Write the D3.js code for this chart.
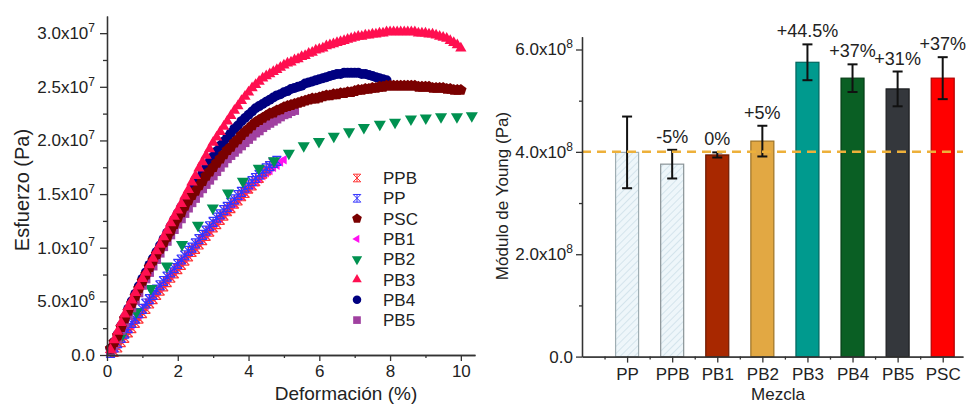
<!DOCTYPE html>
<html>
<head>
<meta charset="utf-8">
<script src="https://cdnjs.cloudflare.com/ajax/libs/d3/7.8.5/d3.min.js"></script>
<style>
  body { margin: 0; background: #fff; }
  svg { display: block; font-family: Arial, "Liberation Sans", sans-serif; }
  .axis path, .axis line { stroke: #333; stroke-width: 1.3; }
  .axis text { font-size: 17px; fill: #222; }
</style>
</head>
<body>
<svg id="chart" width="969" height="404"></svg>
<script>
// ---- stress-strain curves (strain in %, stress in units of 1e6 Pa) ----
const pscX = [0.1,0.2,0.3,0.4,0.5,0.6,0.7,0.8,0.9,1.0,1.1,1.2,1.3,1.4,1.5,1.6,1.7,1.8,1.9,2.0,2.1,2.2,2.3,2.4,2.5,2.6,2.7,2.8,2.9,3.0,3.1,3.2,3.3,3.4,3.5,3.6,3.7,3.8,3.9,4.0,4.1,4.2,4.3,4.4,4.5,4.6,4.7,4.8,4.9,5.0,5.1,5.2,5.3,5.4,5.5,5.6,5.7,5.8,5.9,6.0,6.1,6.2,6.3,6.4,6.5,6.6,6.7,6.8,6.9,7.0,7.1,7.2,7.3,7.4,7.5,7.6,7.7,7.8,7.9,8.0,8.1,8.2,8.3,8.4,8.5,8.6,8.7,8.8,8.9,9.0,9.1,9.2,9.3,9.4,9.5,9.6,9.7,9.8,9.9,10.0];
const pscY = [0.6,1.2,1.8,2.6,3.4,4.1,4.8,5.5,6.2,6.9,7.5,8.2,8.8,9.4,9.9,10.5,11.0,11.6,12.2,12.8,13.3,13.9,14.4,14.9,15.3,15.8,16.2,16.7,17.1,17.5,17.9,18.3,18.7,19.1,19.4,19.8,20.1,20.5,20.8,21.1,21.4,21.7,21.9,22.1,22.3,22.5,22.6,22.8,22.9,23.1,23.2,23.3,23.4,23.5,23.6,23.7,23.8,23.9,23.9,24.0,24.1,24.2,24.2,24.3,24.3,24.4,24.4,24.5,24.5,24.6,24.7,24.7,24.8,24.8,24.9,24.9,25.0,25.0,25.1,25.1,25.1,25.1,25.1,25.1,25.1,25.1,25.1,25.0,25.0,25.0,25.0,24.9,24.9,24.9,24.9,24.8,24.8,24.7,24.7,24.7];

const pb3X = [0.1,0.2,0.3,0.4,0.5,0.6,0.7,0.8,0.9,1.0,1.1,1.2,1.3,1.4,1.5,1.6,1.7,1.8,1.9,2.0,2.1,2.2,2.3,2.4,2.5,2.6,2.7,2.8,2.9,3.0,3.1,3.2,3.3,3.4,3.5,3.6,3.7,3.8,3.9,4.0,4.1,4.2,4.3,4.4,4.5,4.6,4.7,4.8,4.9,5.0,5.1,5.2,5.3,5.4,5.5,5.6,5.7,5.8,5.9,6.0,6.1,6.2,6.3,6.4,6.5,6.6,6.7,6.8,6.9,7.0,7.1,7.2,7.3,7.4,7.5,7.6,7.7,7.8,7.9,8.0,8.1,8.2,8.3,8.4,8.5,8.6,8.7,8.8,8.9,9.0,9.1,9.2,9.3,9.4,9.5,9.6,9.7,9.8,9.9,10.0];
const pb3Y = [0.5,1.4,2.2,3.0,3.8,4.5,5.1,5.8,6.4,7.1,7.7,8.4,9.0,9.7,10.3,11.0,11.6,12.3,12.9,13.5,14.1,14.8,15.4,16.1,16.7,17.4,18.0,18.6,19.2,19.8,20.3,20.8,21.3,21.8,22.3,22.8,23.2,23.7,24.1,24.5,24.9,25.2,25.5,25.8,26.0,26.2,26.4,26.6,26.8,27.0,27.2,27.3,27.5,27.6,27.8,27.9,28.1,28.2,28.4,28.5,28.6,28.8,28.9,29.0,29.1,29.2,29.3,29.4,29.5,29.6,29.7,29.7,29.8,29.8,29.9,29.9,30.0,30.0,30.1,30.1,30.1,30.1,30.1,30.1,30.1,30.1,30.1,30.0,30.0,30.0,29.9,29.9,29.8,29.7,29.6,29.5,29.3,29.1,28.9,28.6];

const pb4X = [0.1,0.2,0.3,0.4,0.5,0.6,0.7,0.8,0.9,1.0,1.1,1.2,1.3,1.4,1.5,1.6,1.7,1.8,1.9,2.0,2.1,2.2,2.3,2.4,2.5,2.6,2.7,2.8,2.9,3.0,3.1,3.2,3.3,3.4,3.5,3.6,3.7,3.8,3.9,4.0,4.1,4.2,4.3,4.4,4.5,4.6,4.7,4.8,4.9,5.0,5.1,5.2,5.3,5.4,5.5,5.6,5.7,5.8,5.9,6.0,6.1,6.2,6.3,6.4,6.5,6.6,6.7,6.8,6.9,7.0,7.1,7.2,7.3,7.4,7.5,7.6,7.7,7.8,7.9];
const pb4Y = [0.6,1.2,1.9,2.7,3.5,4.3,5.0,5.7,6.4,7.1,7.7,8.4,9.0,9.6,10.2,10.8,11.4,12.0,12.6,13.2,13.8,14.4,14.9,15.5,16.0,16.5,17.0,17.5,18.0,18.5,19.0,19.5,19.9,20.3,20.7,21.1,21.4,21.8,22.1,22.4,22.7,23.0,23.2,23.4,23.6,23.8,24.0,24.2,24.3,24.5,24.6,24.8,24.9,25.0,25.1,25.3,25.4,25.5,25.6,25.7,25.8,25.9,26.0,26.1,26.2,26.2,26.3,26.3,26.3,26.3,26.3,26.2,26.2,26.1,26.0,25.9,25.8,25.7,25.6];

const pb5X = [0.1,0.2,0.3,0.4,0.5,0.6,0.7,0.8,0.9,1.0,1.1,1.2,1.3,1.4,1.5,1.6,1.7,1.8,1.9,2.0,2.1,2.2,2.3,2.4,2.5,2.6,2.7,2.8,2.9,3.0,3.1,3.2,3.3,3.4,3.5,3.6,3.7,3.8,3.9,4.0,4.1,4.2,4.3,4.4,4.5,4.6,4.7,4.8,4.9,5.0,5.1,5.2,5.3];
const pb5Y = [0.3,0.9,1.5,2.3,3.0,3.7,4.4,5.1,5.8,6.5,7.1,7.7,8.3,8.9,9.5,10.1,10.6,11.2,11.7,12.2,12.7,13.2,13.7,14.2,14.6,15.1,15.5,15.9,16.3,16.7,17.1,17.5,17.9,18.3,18.6,18.9,19.2,19.5,19.8,20.1,20.4,20.7,20.9,21.2,21.4,21.6,21.8,22.0,22.2,22.4,22.5,22.7,22.8];

const pb2X = [0.40,0.83,1.24,1.69,2.12,2.57,2.99,3.42,3.84,4.29,4.72,5.14,5.56,5.99,6.41,6.84,7.26,7.71,8.14,8.59,9.01,9.44,9.89,10.31];
const pb2Y = [1.7,4.0,6.2,8.3,10.3,12.1,13.7,15.1,16.2,17.4,18.1,18.8,19.5,19.9,20.4,20.8,21.2,21.5,21.7,22.0,22.1,22.2,22.2,22.3];

const ppX = [0.1,0.2,0.3,0.4,0.5,0.6,0.7,0.8,0.9,1.0,1.1,1.2,1.3,1.4,1.5,1.6,1.7,1.8,1.9,2.0,2.1,2.2,2.3,2.4,2.5,2.6,2.7,2.8,2.9,3.0,3.1,3.2,3.3,3.4,3.5,3.6,3.7,3.8,3.9,4.0,4.1,4.2,4.3,4.4,4.5,4.6,4.7,4.8];
const ppY = [0.2,0.7,1.1,1.6,2.0,2.5,3.0,3.4,3.9,4.3,4.8,5.2,5.6,6.1,6.5,6.9,7.3,7.7,8.1,8.5,8.9,9.3,9.7,10.0,10.4,10.8,11.2,11.6,12.0,12.4,12.8,13.1,13.5,13.8,14.2,14.5,14.9,15.2,15.6,15.9,16.2,16.5,16.8,17.1,17.4,17.6,17.9,18.1];

const ppbX = [0.2,0.3,0.4,0.5,0.6,0.7,0.8,0.9,1.0,1.1,1.2,1.3,1.4,1.5,1.6,1.7,1.8,1.9,2.0,2.1,2.2,2.3,2.4,2.5,2.6,2.7,2.8,2.9,3.0,3.1,3.2,3.3,3.4,3.5,3.6,3.7,3.8,3.9,4.0,4.1,4.2,4.3,4.4,4.5,4.6,4.7];
const ppbY = [0.3,0.7,1.2,1.6,2.1,2.5,3.0,3.4,3.9,4.3,4.8,5.2,5.6,6.0,6.4,6.8,7.2,7.6,8.0,8.4,8.8,9.2,9.6,9.9,10.3,10.7,11.1,11.5,11.9,12.2,12.6,13.0,13.4,13.7,14.1,14.4,14.8,15.1,15.5,15.8,16.2,16.5,16.9,17.2,17.6,17.9];

const pb1X = [0.1,0.2,0.3,0.4,0.5,0.6,0.7,0.8,0.9,1.0,1.1,1.2,1.3,1.4,1.5,1.6,1.7,1.8,1.9,2.0,2.1,2.2,2.3,2.4,2.5,2.6,2.7,2.8,2.9,3.0,3.1,3.2,3.3,3.4,3.5,3.6,3.7,3.8,3.9,4.0,4.1,4.2,4.3,4.4,4.5,4.6,4.7,4.8,4.9,5.0];
const pb1Y = [0.2,0.6,1.0,1.5,1.9,2.4,2.8,3.3,3.7,4.2,4.6,5.0,5.4,5.8,6.2,6.6,7.0,7.4,7.8,8.2,8.6,9.0,9.4,9.7,10.1,10.5,10.9,11.2,11.6,12.0,12.4,12.7,13.1,13.4,13.8,14.1,14.5,14.8,15.2,15.5,15.8,16.1,16.4,16.7,17.0,17.2,17.5,17.7,18.0,18.2];

const legendOrder = ["PPB", "PP", "PSC", "PB1", "PB2", "PB3", "PB4", "PB5"];
const strainTicks = [0, 2, 4, 6, 8, 10];
const stressTicks = [0, 5, 10, 15, 20, 25, 30];

// ---- Young's modulus (units of 1e8 Pa) ----
const mixes = ["PP", "PPB", "PB1", "PB2", "PB3", "PB4", "PB5", "PSC"];
const modulus = [3.99, 3.76, 3.94, 4.21, 5.75, 5.44, 5.23, 5.44];
const modulusErr = [0.70, 0.28, 0.05, 0.30, 0.35, 0.27, 0.34, 0.41];
const changeLabels = ["", "-5%", "0%", "+5%", "+44.5%", "+37%", "+31%", "+37%"];
const referenceModulus = 4.0;
const modulusTicks = [0, 2, 4, 6];

const barColors = ["url(#hatch)", "url(#hatch)", "#A82800", "#E2A843", "#009A8E", "#0A5F24", "#34373C", "#FF0000"];
const barStrokes = ["#9fadb2", "#8a9397", "#6e1a00", "#9c7226", "#00665e", "#053d16", "#1c1e21", "#b00000"];

const svg = d3.select("#chart");

const defs = svg.append("defs");
const pat = defs.append("pattern").attr("id", "hatch")
    .attr("width", 5).attr("height", 5)
    .attr("patternUnits", "userSpaceOnUse")
    .attr("patternTransform", "rotate(45)");
pat.append("rect").attr("width", 5).attr("height", 5).attr("fill", "#eef6fa");
pat.append("line").attr("x1", 0).attr("y1", 0).attr("x2", 0).attr("y2", 5)
    .attr("stroke", "#c3d9e4").attr("stroke-width", 1.2);

// marker shapes
function shape(kind, r) {
    const poly = angles => "M" + angles.map(a => {
        const t = a * Math.PI / 180;
        return (r * Math.cos(t)).toFixed(2) + "," + (r * Math.sin(t)).toFixed(2);
    }).join("L") + "Z";
    switch (kind) {
        case "pentagon": return poly([-90, -18, 54, 126, 198]);
        case "up": return poly([-90, 30, 150]);
        case "down": return poly([90, 210, 330]);
        case "left": return poly([180, 300, 60]);
        case "square": return `M${-r},${-r}H${r}V${r}H${-r}Z`;
        case "circle": return `M${r},0A${r},${r} 0 1,1 ${-r},0A${r},${r} 0 1,1 ${r},0Z`;
        case "hatch": return `M${-r},${-r}L${r},${r}M${-r},${r}L${r},${-r}M${-r},${-r}H${r}M${-r},${r}H${r}M0,${-r}V${r}`;
    }
}

// superscript tick labels like 3.0x10^7
function sciTicks(g, unit) {
    g.selectAll(".tick text").each(function (d) {
        const t = d3.select(this);
        t.text(null);
        if (d === 0) { t.text("0.0"); return; }
        const v = d * unit;
        const e = Math.floor(Math.log10(v) + 1e-9);
        const m = (v / Math.pow(10, e)).toFixed(1);
        t.append("tspan").text(m + "x10");
        t.append("tspan").attr("dy", "-0.6em").attr("font-size", "12px").text(e);
    });
}

// ================= left: stress-strain =================
const xL = d3.scaleLinear().domain([0, 10.4]).range([107, 475]);
const yL = d3.scaleLinear().domain([0, 31.6]).range([355, 16]);

const series = {
    PPB: { xs: ppbX, ys: ppbY, color: "#FF3535", kind: "hatch", r: 4.5 },
    PP:  { xs: ppX,  ys: ppY,  color: "#3434FF", kind: "hatch", r: 4.5 },
    PSC: { xs: pscX, ys: pscY, color: "#7A0000", kind: "pentagon", r: 6 },
    PB1: { xs: pb1X, ys: pb1Y, color: "#FF10F0", kind: "left", r: 5.5 },
    PB2: { xs: pb2X, ys: pb2Y, color: "#009150", kind: "down", r: 7 },
    PB3: { xs: pb3X, ys: pb3Y, color: "#FF0F50", kind: "up", r: 6.5 },
    PB4: { xs: pb4X, ys: pb4Y, color: "#000080", kind: "circle", r: 5 },
    PB5: { xs: pb5X, ys: pb5Y, color: "#A040A0", kind: "square", r: 4.5 }
};
const drawOrder = ["PB1", "PPB", "PP", "PB2", "PB5", "PB4", "PSC", "PB3"];

const left = svg.append("g");

drawOrder.forEach(name => {
    const s = series[name];
    const pts = s.xs.map((x, i) => [x, s.ys[i]]);
    const stroked = s.kind === "hatch";
    left.append("g").selectAll("path")
        .data(pts)
        .enter().append("path")
        .attr("transform", d => `translate(${xL(d[0])},${yL(d[1])})`)
        .attr("d", shape(s.kind, s.r))
        .attr("fill", stroked ? "none" : s.color)
        .attr("stroke", stroked ? s.color : "none")
        .attr("stroke-width", stroked ? 1.2 : 0);
});

// axes
left.append("g").attr("class", "axis")
    .attr("transform", "translate(0,355)")
    .call(d3.axisBottom(xL).tickValues(strainTicks).tickSize(6).tickSizeOuter(0).tickPadding(4));
left.append("g").attr("class", "axis")
    .attr("transform", "translate(0,355)")
    .call(d3.axisBottom(xL).tickValues([1, 3, 5, 7, 9]).tickSize(3).tickSizeOuter(0).tickFormat(""));
left.append("g").attr("class", "axis")
    .attr("transform", "translate(107,0)")
    .call(d3.axisLeft(yL).tickValues(stressTicks).tickSize(7).tickSizeOuter(0).tickPadding(5))
    .call(g => sciTicks(g, 1e6));
left.append("g").attr("class", "axis")
    .attr("transform", "translate(107,0)")
    .call(d3.axisLeft(yL).tickValues([2.5, 7.5, 12.5, 17.5, 22.5, 27.5]).tickSize(4).tickSizeOuter(0).tickFormat(""));

left.append("text")
    .attr("x", 346).attr("y", 400)
    .attr("text-anchor", "middle")
    .attr("font-size", "19px").attr("fill", "#222")
    .text("Deformación (%)");
left.append("text")
    .attr("transform", "translate(29,190) rotate(-90)")
    .attr("text-anchor", "middle")
    .attr("font-size", "20px").attr("fill", "#222")
    .text("Esfuerzo (Pa)");

// legend
const legend = left.append("g");
legendOrder.forEach((name, i) => {
    const s = series[name];
    const y = 178 + i * 20.3;
    const stroked = s.kind === "hatch";
    legend.append("path")
        .attr("transform", `translate(357,${y})`)
        .attr("d", shape(s.kind, s.r * 0.85))
        .attr("fill", stroked ? "none" : s.color)
        .attr("stroke", stroked ? s.color : "none")
        .attr("stroke-width", 1);
    legend.append("text")
        .attr("x", 383).attr("y", y)
        .attr("dy", "0.36em")
        .attr("font-size", "17px").attr("fill", "#222")
        .text(name);
});

// ================= right: Young's modulus =================
const xR = d3.scaleLinear().domain([0, 8.45]).range([582, 963]);
const yR = d3.scaleLinear().domain([0, 6.25]).range([356.6, 36.7]);
const barW = 23;

const right = svg.append("g");

right.selectAll("rect.bar")
    .data(mixes)
    .enter().append("rect")
    .attr("class", "bar")
    .attr("x", (d, i) => xR(i + 1) - barW / 2)
    .attr("y", (d, i) => yR(modulus[i]))
    .attr("width", barW)
    .attr("height", (d, i) => yR(0) - yR(modulus[i]))
    .attr("fill", (d, i) => barColors[i])
    .attr("stroke", (d, i) => barStrokes[i])
    .attr("stroke-width", 1.2);

// error bars
const err = right.append("g").attr("stroke", "#111").attr("stroke-width", 2);
mixes.forEach((d, i) => {
    const cx = xR(i + 1);
    const top = yR(modulus[i] + modulusErr[i]);
    const bot = yR(modulus[i] - modulusErr[i]);
    err.append("line").attr("x1", cx).attr("x2", cx).attr("y1", top).attr("y2", bot);
    err.append("line").attr("x1", cx - 5).attr("x2", cx + 5).attr("y1", top).attr("y2", top);
    err.append("line").attr("x1", cx - 5).attr("x2", cx + 5).attr("y1", bot).attr("y2", bot);
});

// reference line
right.append("line")
    .attr("x1", xR(0)).attr("x2", xR(8.45))
    .attr("y1", yR(referenceModulus)).attr("y2", yR(referenceModulus))
    .attr("stroke", "#EDB03A").attr("stroke-width", 2.5)
    .attr("stroke-dasharray", "9,6");

// percentage labels
right.selectAll("text.pct")
    .data(changeLabels)
    .enter().append("text")
    .attr("class", "pct")
    .attr("x", (d, i) => xR(i + 1))
    .attr("y", (d, i) => yR(modulus[i] + modulusErr[i]) - 7)
    .attr("text-anchor", "middle")
    .attr("font-size", "18px").attr("fill", "#222")
    .text(d => d);

// axes
right.append("g").attr("class", "axis")
    .attr("transform", "translate(0,356.6)")
    .call(d3.axisBottom(xR).tickValues([1, 2, 3, 4, 5, 6, 7, 8]).tickSize(6).tickSizeOuter(0).tickPadding(5)
        .tickFormat(d => mixes[d - 1]));
right.append("g").attr("class", "axis")
    .attr("transform", "translate(0,356.6)")
    .call(d3.axisBottom(xR).tickValues([0.5, 1.5, 2.5, 3.5, 4.5, 5.5, 6.5, 7.5]).tickSize(3).tickSizeOuter(0).tickFormat(""));
right.append("g").attr("class", "axis")
    .attr("transform", "translate(582,0)")
    .call(d3.axisLeft(yR).tickValues(modulusTicks).tickSize(6).tickSizeOuter(0).tickPadding(3))
    .call(g => sciTicks(g, 1e8));
right.append("g").attr("class", "axis")
    .attr("transform", "translate(582,0)")
    .call(d3.axisLeft(yR).tickValues([1, 3, 5]).tickSize(3).tickSizeOuter(0).tickFormat(""));

right.append("text")
    .attr("x", 778).attr("y", 400)
    .attr("text-anchor", "middle")
    .attr("font-size", "17px").attr("fill", "#222")
    .text("Mezcla");
right.append("text")
    .attr("transform", "translate(508,196) rotate(-90)")
    .attr("text-anchor", "middle")
    .attr("font-size", "17px").attr("fill", "#222")
    .text("Módulo de Young (Pa)");
</script>
</body>
</html>
